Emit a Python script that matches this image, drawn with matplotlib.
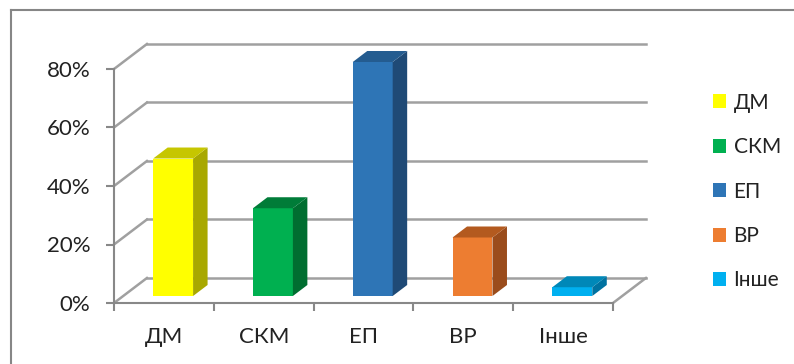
import matplotlib
matplotlib.use('Agg')
import matplotlib.pyplot as plt
from matplotlib.patches import Polygon, Patch
from matplotlib.lines import Line2D
import numpy as np

plt.rcParams['font.family'] = ['Lato', 'Open Sans', 'DejaVu Sans']

# Дані
categories = ['ДМ', 'СКМ', 'ЕП', 'ВР', 'Інше']
values = [47, 30, 80, 20, 3]
y_ticks = [0, 20, 40, 60, 80]
y_labels = ['0%', '20%', '40%', '60%', '80%']

front_colors = ['#FFFF00', '#00B050', '#2E75B6', '#ED7D31', '#00B0F0']
top_colors = ['#C6C600', '#007C38', '#245C90', '#B35A1F', '#0088B8']
side_colors = ['#A8A800', '#006E30', '#1F4A76', '#9A4C1C', '#0072A0']

# глибина "3D" у координатах даних
DX, DY = 0.33, 8.55
f0, f1 = 0.28, 0.72
bar_w = 0.4
grid_c = '#A0A0A0'

fig = plt.figure(figsize=(7.94, 3.64), dpi=100)
ax = fig.add_axes([114 / 794, 61 / 364, 499 / 794, 234 / 364])
ax.set_xlim(0, len(categories))
ax.set_ylim(0, 80)
n = len(categories)

# задня стінка і ліва стінка
for v in y_ticks:
    ax.plot([DX, n + DX], [v + DY, v + DY], color=grid_c, lw=1.8, zorder=1, clip_on=False)
    ax.plot([0, DX], [v, v + DY], color=grid_c, lw=1.8, zorder=1, clip_on=False)
# права грань підлоги
ax.plot([n, n + DX], [0, DY], color=grid_c, lw=1.8, zorder=1, clip_on=False)

# стовпчики
x = np.arange(n) + 0.5
x0 = x - bar_w / 2 + DX * f0
x1 = x + bar_w / 2 + DX * f0
d = f1 - f0
ax.bar(x0, values, width=bar_w, align='edge', bottom=DY * f0,
       color=front_colors, zorder=3, clip_on=False)
for i, v in enumerate(values):
    b = DY * f0
    side = [(x1[i], b), (x1[i], b + v), (x1[i] + DX * d, b + v + DY * d), (x1[i] + DX * d, b + DY * d)]
    top = [(x0[i], b + v), (x1[i], b + v), (x1[i] + DX * d, b + v + DY * d), (x0[i] + DX * d, b + v + DY * d)]
    ax.add_patch(Polygon(side, closed=True, color=side_colors[i], zorder=3, clip_on=False, lw=0))
    ax.add_patch(Polygon(top, closed=True, color=top_colors[i], zorder=3, clip_on=False, lw=0))

# осі
for s in ['top', 'right']:
    ax.spines[s].set_visible(False)
for s in ['left', 'bottom']:
    ax.spines[s].set_color('#888888')
    ax.spines[s].set_linewidth(1.5)
ax.set_facecolor('none')
ax.set_yticks(y_ticks)
ax.set_yticklabels(y_labels, fontsize=16, color='#222222')
ax.tick_params(axis='y', length=6, width=1.5, color='#888888', pad=11)
ax.set_xticks(np.arange(n + 1))
ax.set_xticklabels([])
ax.set_xticks(x, minor=True)
ax.set_xticklabels(categories, minor=True, fontsize=16, color='#222222')
ax.tick_params(axis='x', which='major', length=6, width=1.5, color='#888888')
ax.tick_params(axis='x', which='minor', length=0, pad=17)

# легенда
handles = [Patch(facecolor=c, edgecolor='none') for c in front_colors]
fig.legend(handles, categories, loc='upper left', bbox_to_anchor=(694 / 794, 1 - 74 / 364),
           frameon=False, fontsize=15, handlelength=0.65, handleheight=0.65,
           handletextpad=0.35, labelspacing=1.17, labelcolor='#222222')

# рамка області діаграми
fig.add_artist(Line2D([10.5 / 794, 1], [1 - 9.5 / 364, 1 - 9.5 / 364],
                      transform=fig.transFigure, color='#868686', lw=1.5))
fig.add_artist(Line2D([10.5 / 794, 10.5 / 794], [0, 1 - 9.5 / 364],
                      transform=fig.transFigure, color='#868686', lw=1.5))

fig.savefig('out.png', dpi=100)
